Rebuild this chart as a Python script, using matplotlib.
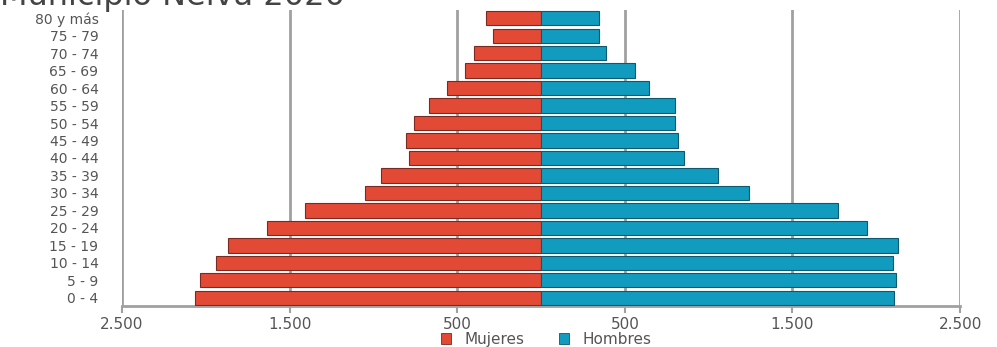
import matplotlib
matplotlib.use("Agg")
import matplotlib.pyplot as plt
from matplotlib.patches import Patch

# Population by age group, Neiva 2020
grupos = ["0 - 4", "5 - 9", "10 - 14", "15 - 19", "20 - 24", "25 - 29",
          "30 - 34", "35 - 39", "40 - 44", "45 - 49", "50 - 54", "55 - 59",
          "60 - 64", "65 - 69", "70 - 74", "75 - 79", "80 y más"]
mujeres = [2066, 2034, 1942, 1870, 1638, 1410, 1052, 956, 786, 804, 760,
           670, 564, 452, 400, 286, 326]
hombres = [2108, 2118, 2098, 2132, 1945, 1770, 1243, 1058, 853, 817, 800,
           801, 643, 563, 388, 346, 346]

ticks = [-2500, -1500, -500, 500, 1500, 2500]
tick_labels = ["2.500", "1.500", "500", "500", "1.500", "2.500"]

color_m = "#e24a36"
color_h = "#119bbf"
grid_c = "#a0a0a0"
text_c = "#555555"

plt.rcParams["font.family"] = ["DejaVu Sans"]

fig = plt.figure(figsize=(9.97, 3.47), dpi=100)
ax = fig.add_axes([0.1224, 0.1182, 0.8406, 0.8530])

y = list(range(len(grupos)))
ax.barh(y, [-v for v in mujeres], height=0.82, color=color_m,
        edgecolor="#7a2a20", linewidth=0.8, zorder=3, label="Mujeres")
ax.barh(y, hombres, height=0.82, color=color_h,
        edgecolor="#0b5a70", linewidth=0.8, zorder=3, label="Hombres")

ax.set_xlim(-2500, 2500)
ax.set_ylim(-0.47, len(grupos) - 0.53)

for t in ticks:
    ax.axvline(t, color=grid_c, linewidth=2, zorder=1)

ax.set_xticks(ticks)
ax.set_xticklabels(tick_labels)
ax.set_yticks(y)
ax.set_yticklabels(grupos)
ax.tick_params(axis="y", length=0, pad=17, labelsize=10, labelcolor=text_c)
ax.tick_params(axis="x", length=5, width=1.5, color=grid_c, pad=3,
               labelsize=11, labelcolor=text_c)

for side in ["top", "right", "left"]:
    ax.spines[side].set_visible(False)
ax.spines["bottom"].set_color(grid_c)
ax.spines["bottom"].set_linewidth(2)

handles = [Patch(facecolor=color_m, edgecolor="#7a2a20", linewidth=0.6, label="Mujeres"),
           Patch(facecolor=color_h, edgecolor="#0b5a70", linewidth=0.6, label="Hombres")]
fig.legend(handles=handles, loc="center", bbox_to_anchor=(0.548, 0.022),
           ncol=2, frameon=False, fontsize=11, handlelength=0.65, handleheight=0.65,
           columnspacing=2.3, handletextpad=0.85, labelcolor=text_c,
           borderaxespad=0, borderpad=0)

fig.text(0.0, 0.9856, "Municipio Neiva 2020", fontsize=23, color="#444444",
         ha="left", va="baseline")

fig.savefig("out.png", dpi=100)
